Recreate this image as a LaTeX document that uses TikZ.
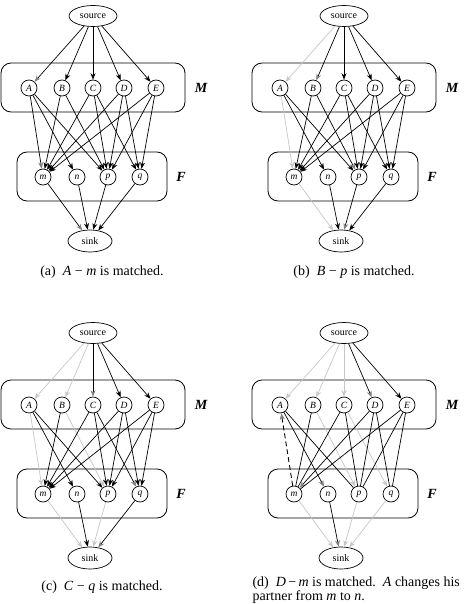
\documentclass[tikz,border=0pt]{standalone}
\usepackage{fontspec}
\setmainfont{Liberation Serif}
\usetikzlibrary{arrows.meta,shapes.geometric}
\definecolor{satgray}{gray}{0.78}
\definecolor{tipgray}{gray}{0.5}
\tikzset{
  srcnode/.style={draw,ellipse,line width=0.7pt,minimum width=48pt,minimum height=21pt,inner sep=0pt,font=\fontsize{10}{11}\selectfont},
  cnode/.style={draw,circle,line width=0.7pt,minimum size=16pt,inner sep=0pt,font=\fontsize{9.5}{10}\selectfont\itshape},
  boxst/.style={draw,line width=0.8pt,rounded corners=10pt},
  setlab/.style={font=\fontsize{14}{15}\selectfont\bfseries\itshape},
  capst/.style={font=\fontsize{14}{16}\selectfont},
  norm/.style={draw=black,line width=0.7pt,-{Stealth[length=6.5pt,width=5pt]}},
  aug/.style={draw=black,line width=0.7pt,-{Stealth[length=6.5pt,width=5pt,color=tipgray]}},
  sat/.style={draw=satgray,line width=0.7pt,-{Stealth[length=6.5pt,width=5pt,color=satgray]}},
  plain/.style={draw=black,line width=0.7pt},
  dashaug/.style={draw=black,line width=0.9pt,dash pattern=on 5pt off 3pt,-{Stealth[length=6.5pt,width=5pt,color=tipgray]}},
}
\newcommand\mkpanel[3]{%
  \begin{scope}[shift={(#2,#3)}]
    \node[srcnode] (#1source) at (93,16) {source};
    \draw[boxst] (1,63) rectangle (185,112);
    \draw[boxst] (17,152) rectangle (167,201);
    \node[cnode] (#1A) at (29,88) {A};
    \node[cnode] (#1B) at (62,88) {B};
    \node[cnode] (#1C) at (93,88) {C};
    \node[cnode] (#1D) at (124,88) {D};
    \node[cnode] (#1E) at (156,88) {E};
    \node[cnode] (#1m) at (43,177) {m};
    \node[cnode] (#1n) at (77,177) {n};
    \node[cnode] (#1p) at (108,177) {p};
    \node[cnode] (#1q) at (140,177) {q};
    \node[setlab] (#1Mlab) at (201,88) {M};
    \node[setlab] (#1Flab) at (181,177) {F};
    \node[srcnode,minimum width=44pt,minimum height=22pt] (#1sink) at (90,241) {sink};
  \end{scope}}
\newcommand\E[3]{\draw[#1] (#2) -- (#3);}
\begin{document}
\begin{tikzpicture}[x=1pt,y=-1pt]
\useasboundingbox (0,0) rectangle (466,604);
\fill[white] (0,0) rectangle (466,604);
\mkpanel{a}{0}{0}
\mkpanel{b}{251}{0}
\mkpanel{c}{0}{317}
\mkpanel{d}{251}{317}
% ---------- panel a
\E{aug}{asource}{aA}\E{norm}{asource}{aB}\E{norm}{asource}{aC}\E{norm}{asource}{aD}\E{norm}{asource}{aE}
\E{aug}{aA}{am}\E{norm}{aA}{an}\E{norm}{aA}{ap}
\E{norm}{aB}{am}\E{norm}{aB}{ap}
\E{norm}{aC}{am}\E{norm}{aC}{ap}\E{norm}{aC}{aq}
\E{norm}{aD}{am}\E{norm}{aD}{ap}\E{norm}{aD}{aq}
\E{norm}{aE}{am}\E{norm}{aE}{ap}\E{norm}{aE}{aq}
\E{aug}{am}{asink}\E{norm}{an}{asink}\E{norm}{ap}{asink}\E{norm}{aq}{asink}
% ---------- panel b
\E{sat}{bsource}{bA}\E{aug}{bsource}{bB}\E{norm}{bsource}{bC}\E{norm}{bsource}{bD}\E{norm}{bsource}{bE}
\E{sat}{bA}{bm}\E{norm}{bA}{bn}\E{norm}{bA}{bp}
\E{norm}{bB}{bm}\E{aug}{bB}{bp}
\E{norm}{bC}{bm}\E{norm}{bC}{bp}\E{norm}{bC}{bq}
\E{norm}{bD}{bm}\E{norm}{bD}{bp}\E{norm}{bD}{bq}
\E{norm}{bE}{bm}\E{norm}{bE}{bp}\E{norm}{bE}{bq}
\E{sat}{bm}{bsink}\E{norm}{bn}{bsink}\E{aug}{bp}{bsink}\E{norm}{bq}{bsink}
% ---------- panel c
\E{sat}{csource}{cA}\E{sat}{csource}{cB}\E{aug}{csource}{cC}\E{norm}{csource}{cD}\E{norm}{csource}{cE}
\E{sat}{cA}{cm}\E{norm}{cA}{cn}\E{norm}{cA}{cp}
\E{norm}{cB}{cm}\E{sat}{cB}{cp}
\E{norm}{cC}{cm}\E{norm}{cC}{cp}\E{aug}{cC}{cq}
\E{norm}{cD}{cm}\E{norm}{cD}{cp}\E{norm}{cD}{cq}
\E{norm}{cE}{cm}\E{norm}{cE}{cp}\E{norm}{cE}{cq}
\E{sat}{cm}{csink}\E{norm}{cn}{csink}\E{sat}{cp}{csink}\E{aug}{cq}{csink}
% ---------- panel d
\E{sat}{dsource}{dA}\E{sat}{dsource}{dB}\E{sat}{dsource}{dC}\E{aug}{dsource}{dD}\E{norm}{dsource}{dE}
\E{dashaug}{dm}{dA}\E{aug}{dA}{dn}\E{plain}{dA}{dp}
\E{plain}{dB}{dm}\E{sat}{dB}{dp}
\E{plain}{dC}{dm}\E{plain}{dC}{dp}\E{sat}{dC}{dq}
\E{aug}{dD}{dm}\E{plain}{dD}{dp}\E{plain}{dD}{dq}
\E{plain}{dE}{dm}\E{plain}{dE}{dp}\E{plain}{dE}{dq}
\E{sat}{dm}{dsink}\E{aug}{dn}{dsink}\E{sat}{dp}{dsink}\E{sat}{dq}{dsink}
% ---------- captions
\node[capst] (capa) at (102,272) {(a)\enspace\textit{A} − \textit{m} is matched.};
\node[capst] (capb) at (354,272) {(b)\enspace\textit{B} − \textit{p} is matched.};
\node[capst] (capc) at (102,587) {(c)\enspace\textit{C} − \textit{q} is matched.};
\node[capst,anchor=base west] (capd) at (249,586) {(d)\enspace\textit{D}\,−\,\textit{m} is matched.\enspace\textit{A} changes his};
\node[capst,anchor=base west] (capd2) at (249,600) {partner from \textit{m} to \textit{n}.};
\end{tikzpicture}
\end{document}
